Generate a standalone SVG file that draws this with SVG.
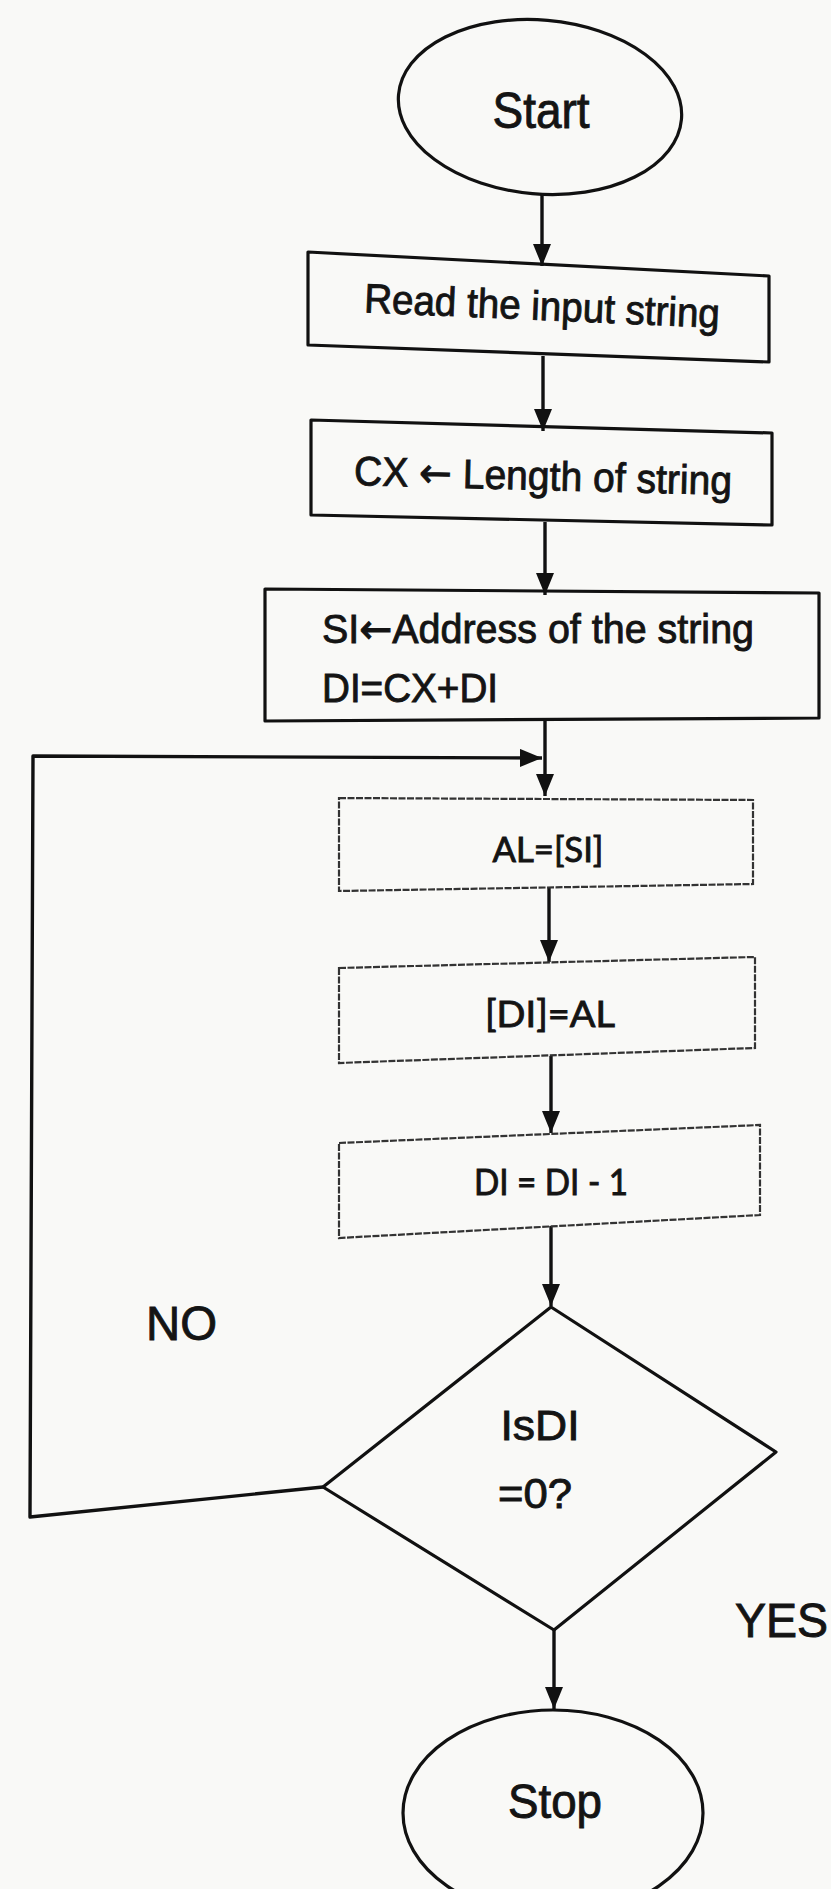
<svg xmlns="http://www.w3.org/2000/svg" width="831" height="1889" viewBox="0 0 831 1889">
  <style>
    .bg { fill: #f9f9f7; }
    .shape { fill: none; stroke: #111; stroke-width: 3.2; stroke-linejoin: round; }
    .soft { fill: none; stroke: #333; stroke-width: 2.2; stroke-dasharray: 7 1.5; }
    .conn { fill: none; stroke: #111; stroke-width: 3.4; stroke-linejoin: round; }
    text { fill: #141414; stroke: #141414; stroke-width: 0.9; }
    .t { font-family: "Liberation Sans", Arial, sans-serif; text-anchor: middle; }
    .tl { font-family: "Liberation Sans", Arial, sans-serif; }
    .c { font-family: Lato, "Liberation Sans", sans-serif; text-anchor: middle; }
    .arr { font-family: "DejaVu Sans", sans-serif; }
  </style>
  <defs>
    <marker id="ah" viewBox="0 0 22 18" refX="22" refY="9" markerWidth="22" markerHeight="18" markerUnits="userSpaceOnUse" orient="auto">
      <path d="M0,0 L22,9 L0,18 z" fill="#111"/>
    </marker>
  </defs>
  <rect class="bg" x="0" y="0" width="831" height="1889"/>

  <g id="connectors">
    <line class="conn" x1="542" y1="194" x2="542" y2="266" marker-end="url(#ah)"/>
    <line class="conn" x1="543" y1="356" x2="543" y2="431" marker-end="url(#ah)"/>
    <line class="conn" x1="545" y1="522" x2="545" y2="595" marker-end="url(#ah)"/>
    <line class="conn" x1="545" y1="720" x2="545" y2="796" marker-end="url(#ah)"/>
    <polyline class="conn" points="323,1487 30,1517 33,756 542,758" marker-end="url(#ah)"/>
    <line class="conn" x1="549" y1="888" x2="549" y2="962" marker-end="url(#ah)"/>
    <line class="conn" x1="551" y1="1056" x2="551" y2="1133" marker-end="url(#ah)"/>
    <line class="conn" x1="551" y1="1226" x2="551" y2="1306" marker-end="url(#ah)"/>
    <line class="conn" x1="554" y1="1630" x2="554" y2="1709" marker-end="url(#ah)"/>
  </g>

  <g id="start">
    <ellipse class="shape" cx="540" cy="107" rx="142" ry="87" transform="rotate(5 540 107)"/>
    <text class="t" x="541" y="128" font-size="50" textLength="97" lengthAdjust="spacingAndGlyphs">Start</text>
  </g>

  <g id="read">
    <polygon class="shape" points="308,252 769,276 769,362 308,345"/>
    <text class="t" x="542" y="320" font-size="41" textLength="356" lengthAdjust="spacingAndGlyphs" transform="rotate(2.5 542 308)">Read the input string</text>
  </g>

  <g id="cx">
    <polygon class="shape" points="311,420 772,433 772,525 311,515"/>
    <text class="t" x="543" y="490" font-size="41" textLength="378" lengthAdjust="spacingAndGlyphs" transform="rotate(1.5 543 478)">CX <tspan class="arr">←</tspan> Length of string</text>
  </g>

  <g id="si">
    <polygon class="shape" points="265,589 819,593 819,718 265,721"/>
    <text class="tl" x="322" y="643" font-size="41" textLength="432" lengthAdjust="spacingAndGlyphs">SI<tspan class="arr">←</tspan>Address of the string</text>
    <text class="tl" x="322" y="702" font-size="41" textLength="176" lengthAdjust="spacingAndGlyphs">DI=CX+DI</text>
  </g>

  <g id="al">
    <polygon class="soft" points="339,798 753,800 753,884 339,891"/>
    <text class="c" x="548" y="862" font-size="34" textLength="111" lengthAdjust="spacingAndGlyphs">AL=[SI]</text>
  </g>

  <g id="store">
    <polygon class="soft" points="339,968 755,957 755,1048 339,1063"/>
    <text class="c" x="550" y="1027" font-size="36" textLength="130" lengthAdjust="spacingAndGlyphs">[DI]=AL</text>
  </g>

  <g id="dec">
    <polygon class="soft" points="339,1143 760,1125 760,1215 339,1238"/>
    <text class="c" x="551" y="1195" font-size="36" textLength="154" lengthAdjust="spacingAndGlyphs">DI = DI - 1</text>
  </g>

  <g id="decision">
    <polygon class="shape" points="551,1307 776,1452 554,1630 323,1487"/>
    <text class="t" x="540" y="1440" font-size="42" textLength="79" lengthAdjust="spacingAndGlyphs">IsDI</text>
    <text class="t" x="535" y="1508" font-size="42" textLength="74" lengthAdjust="spacingAndGlyphs">=0?</text>
  </g>

  <g id="labels">
    <text class="tl" x="146" y="1340" font-size="48" textLength="71" lengthAdjust="spacingAndGlyphs">NO</text>
    <text class="tl" x="735" y="1637" font-size="48" textLength="93" lengthAdjust="spacingAndGlyphs">YES</text>
  </g>

  <g id="stop">
    <ellipse class="shape" cx="553" cy="1813" rx="150" ry="103"/>
    <text class="t" x="555" y="1818" font-size="48" textLength="94" lengthAdjust="spacingAndGlyphs">Stop</text>
  </g>
</svg>
